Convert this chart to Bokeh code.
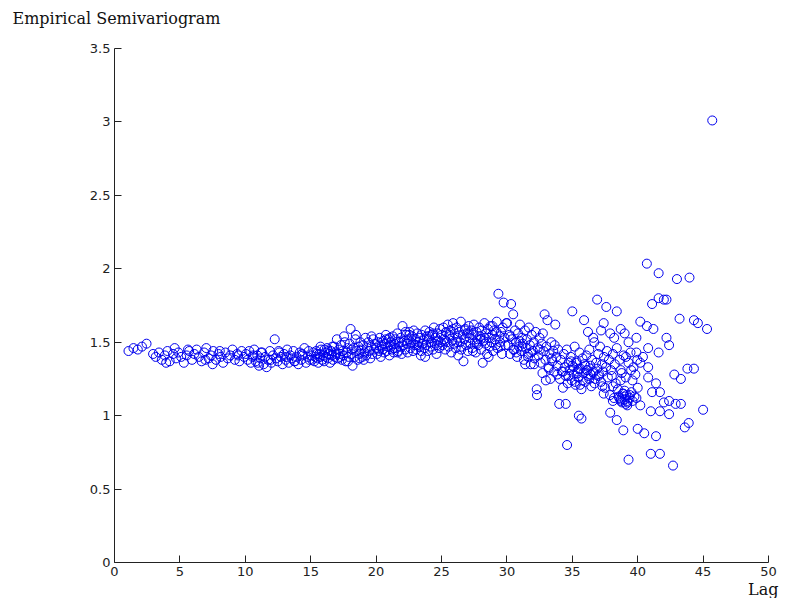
from bokeh.plotting import figure
from bokeh.models import Range1d, FixedTicker, Title
from bokeh.embed import file_html
from bokeh.resources import INLINE

# ---- data (lag, semivariance) ----
lag_a = [1.07, 1.45, 1.78, 2.10, 2.45, 2.95]
gam_a = [1.44, 1.46, 1.45, 1.47, 1.49, 1.42]

lag_b = [3.15, 3.40, 3.62, 3.85, 4.05, 4.22, 4.48, 4.70, 4.88, 5.10,
         5.30, 5.52, 5.71, 5.93, 6.10, 6.28, 6.45, 6.66, 6.85, 7.02,
         7.20, 7.38, 7.55, 7.76, 7.95, 8.12, 8.30, 8.48, 8.66, 8.85,
         9.02, 9.20, 9.38, 9.55, 9.72, 9.90, 3.95, 5.62, 6.95, 8.05,
         9.45, 4.60, 7.50]
gam_b = [1.40, 1.43, 1.38, 1.41, 1.44, 1.37, 1.42, 1.39, 1.43, 1.40,
         1.36, 1.41, 1.44, 1.38, 1.42, 1.45, 1.40, 1.37, 1.43, 1.46,
         1.39, 1.41, 1.44, 1.38, 1.42, 1.40, 1.36, 1.43, 1.39, 1.41,
         1.45, 1.38, 1.42, 1.37, 1.44, 1.40, 1.36, 1.45, 1.38, 1.44,
         1.41, 1.46, 1.35]

lag_c = [10.05, 10.18, 10.30, 10.42, 10.55, 10.68, 10.80, 10.92, 11.05, 11.15,
         11.28, 11.40, 11.52, 11.63, 11.75, 11.88, 12.00, 12.12, 12.25, 12.35,
         12.48, 12.60, 12.72, 12.85, 12.96, 13.08, 13.20, 13.32, 13.45, 13.56,
         13.68, 13.80, 13.92, 14.05, 14.16, 14.28, 14.40, 14.52, 14.65, 14.78,
         14.90, 10.60, 11.20, 11.95, 12.55, 13.15, 13.75, 14.35, 14.85, 10.95]
gam_c = [1.42, 1.38, 1.44, 1.36, 1.40, 1.45, 1.37, 1.41, 1.34, 1.39,
         1.43, 1.35, 1.40, 1.33, 1.38, 1.44, 1.36, 1.41, 1.52, 1.39,
         1.37, 1.43, 1.40, 1.35, 1.42, 1.38, 1.45, 1.36, 1.41, 1.39,
         1.44, 1.37, 1.40, 1.35, 1.43, 1.38, 1.41, 1.46, 1.36, 1.40,
         1.38, 1.41, 1.43, 1.38, 1.44, 1.40, 1.37, 1.42, 1.44, 1.36]

lag_d = [15.05, 15.12, 15.20, 15.28, 15.35, 15.42, 15.50, 15.58, 15.65, 15.72,
         15.80, 15.88, 15.95, 16.02, 16.10, 16.18, 16.25, 16.32, 16.40, 16.48,
         16.55, 16.62, 16.70, 16.78, 16.85, 16.92, 17.00, 17.08, 17.15, 17.22,
         17.30, 17.38, 17.45, 17.52, 17.60, 17.68, 17.75, 17.82, 17.90, 17.98,
         18.05, 18.12, 18.20, 18.28, 18.35, 18.42, 18.50, 18.58, 18.65, 18.72,
         18.80, 18.88, 18.95, 19.02, 19.10, 19.18, 19.25, 19.32, 19.40, 19.48,
         19.55, 19.62, 19.70, 19.78, 19.85, 19.92, 15.45, 16.05, 16.65, 17.25,
         17.85, 18.45, 19.05, 19.65, 15.75, 16.35, 16.95, 17.55, 18.15, 18.75]
gam_d = [1.41, 1.38, 1.43, 1.37, 1.40, 1.44, 1.39, 1.36, 1.42, 1.40,
         1.45, 1.38, 1.41, 1.37, 1.43, 1.40, 1.46, 1.39, 1.42, 1.36,
         1.44, 1.41, 1.38, 1.47, 1.40, 1.43, 1.52, 1.39, 1.45, 1.42,
         1.48, 1.38, 1.44, 1.41, 1.50, 1.37, 1.43, 1.46, 1.40, 1.49,
         1.59, 1.42, 1.34, 1.46, 1.40, 1.52, 1.44, 1.38, 1.47, 1.42,
         1.50, 1.45, 1.40, 1.48, 1.43, 1.53, 1.41, 1.46, 1.50, 1.44,
         1.39, 1.47, 1.42, 1.52, 1.45, 1.49, 1.42, 1.45, 1.47, 1.40,
         1.37, 1.55, 1.38, 1.54, 1.47, 1.44, 1.42, 1.54, 1.45, 1.39]

lag_e = [20.02, 20.08, 20.15, 20.22, 20.28, 20.35, 20.42, 20.48, 20.55, 20.62,
         20.68, 20.75, 20.82, 20.88, 20.95, 21.02, 21.08, 21.15, 21.22, 21.28,
         21.35, 21.42, 21.48, 21.55, 21.62, 21.68, 21.75, 21.82, 21.88, 21.95,
         22.02, 22.08, 22.15, 22.22, 22.28, 22.35, 22.42, 22.48, 22.55, 22.62,
         22.68, 22.75, 22.82, 22.88, 22.95, 23.02, 23.08, 23.15, 23.22, 23.28,
         23.35, 23.42, 23.48, 23.55, 23.62, 23.68, 23.75, 23.82, 23.88, 23.95,
         24.02, 24.08, 24.15, 24.22, 24.28, 24.35, 24.42, 24.48, 24.55, 24.62,
         24.68, 24.75, 24.82, 24.88, 24.95, 20.45, 21.05, 21.65, 22.25, 22.85,
         23.45, 24.05, 24.65, 20.75, 21.35, 21.95, 22.55, 23.15, 23.75, 24.35]
gam_e = [1.46, 1.42, 1.50, 1.44, 1.53, 1.40, 1.48, 1.45, 1.51, 1.43,
         1.49, 1.55, 1.44, 1.47, 1.52, 1.41, 1.48, 1.50, 1.45, 1.54,
         1.43, 1.49, 1.52, 1.46, 1.56, 1.44, 1.50, 1.47, 1.53, 1.42,
         1.61, 1.48, 1.51, 1.45, 1.55, 1.49, 1.43, 1.52, 1.57, 1.46,
         1.50, 1.54, 1.44, 1.58, 1.48, 1.52, 1.45, 1.56, 1.50, 1.47,
         1.53, 1.41, 1.55, 1.49, 1.51, 1.46, 1.58, 1.48, 1.54, 1.44,
         1.52, 1.57, 1.47, 1.50, 1.55, 1.45, 1.60, 1.49, 1.53, 1.42,
         1.56, 1.51, 1.46, 1.59, 1.50, 1.47, 1.53, 1.43, 1.57, 1.49,
         1.44, 1.54, 1.48, 1.52, 1.46, 1.50, 1.55, 1.48, 1.40, 1.56]

lag_f = [25.02, 25.08, 25.15, 25.22, 25.28, 25.35, 25.42, 25.48, 25.55, 25.62,
         25.68, 25.75, 25.82, 25.88, 25.95, 26.02, 26.08, 26.15, 26.22, 26.28,
         26.35, 26.42, 26.48, 26.55, 26.62, 26.68, 26.75, 26.82, 26.88, 26.95,
         27.02, 27.08, 27.15, 27.22, 27.28, 27.35, 27.42, 27.48, 27.55, 27.62,
         27.68, 27.75, 27.82, 27.88, 27.95, 28.02, 28.08, 28.15, 28.22, 28.28,
         28.35, 28.42, 28.48, 28.55, 28.62, 28.68, 28.75, 28.82, 28.88, 28.95,
         29.02, 29.08, 29.15, 29.22, 29.28, 29.35, 29.42, 29.48, 29.55, 29.62,
         29.68, 29.75, 29.82, 29.88, 29.95, 25.30, 25.90, 26.50, 27.10, 27.70,
         28.30, 28.90, 29.50, 25.60, 26.20, 26.80, 27.40, 28.00, 28.60, 29.20]
gam_f = [1.55, 1.48, 1.60, 1.52, 1.45, 1.57, 1.50, 1.62, 1.47, 1.54,
         1.58, 1.43, 1.51, 1.63, 1.49, 1.56, 1.46, 1.60, 1.53, 1.41,
         1.57, 1.50, 1.64, 1.47, 1.55, 1.37, 1.52, 1.59, 1.48, 1.56,
         1.44, 1.61, 1.53, 1.49, 1.58, 1.46, 1.55, 1.62, 1.50, 1.43,
         1.57, 1.52, 1.48, 1.60, 1.54, 1.45, 1.58, 1.36, 1.51, 1.63,
         1.49, 1.56, 1.42, 1.59, 1.53, 1.47, 1.61, 1.50, 1.55, 1.44,
         1.58, 1.52, 1.48, 1.64, 1.46, 1.83, 1.54, 1.50, 1.57, 1.42,
         1.60, 1.77, 1.53, 1.48, 1.63, 1.51, 1.59, 1.45, 1.56, 1.49,
         1.53, 1.61, 1.47, 1.55, 1.50, 1.58, 1.44, 1.52, 1.40, 1.57]

lag_g = [30.02, 30.10, 30.18, 30.25, 30.32, 30.40, 30.48, 30.55, 30.62, 30.70,
         30.78, 30.85, 30.92, 31.00, 31.08, 31.15, 31.22, 31.30, 31.38, 31.45,
         31.52, 31.60, 31.68, 31.75, 31.82, 31.90, 31.98, 32.05, 32.12, 32.20,
         32.28, 32.35, 32.42, 32.50, 32.58, 32.65, 32.72, 32.80, 32.88, 32.95,
         33.02, 33.10, 33.18, 33.25, 33.32, 33.40, 33.48, 33.55, 33.62, 33.70,
         33.78, 33.85, 33.92, 30.50, 30.95, 31.40, 31.85, 32.30, 32.75, 33.20,
         33.65, 30.28, 30.72, 31.18, 31.62, 32.08, 32.52, 32.98, 33.42, 33.88]
gam_g = [1.63, 1.48, 1.55, 1.42, 1.76, 1.52, 1.69, 1.45, 1.58, 1.50,
         1.40, 1.56, 1.47, 1.62, 1.44, 1.53, 1.49, 1.38, 1.58, 1.46,
         1.52, 1.42, 1.60, 1.48, 1.35, 1.55, 1.44, 1.50, 1.39, 1.57,
         1.18, 1.46, 1.41, 1.53, 1.36, 1.49, 1.29, 1.44, 1.69, 1.38,
         1.47, 1.65, 1.33, 1.42, 1.25, 1.50, 1.37, 1.44, 1.30, 1.62,
         1.40, 1.28, 1.45, 1.45, 1.51, 1.35, 1.43, 1.14, 1.56, 1.32,
         1.48, 1.54, 1.43, 1.47, 1.40, 1.35, 1.45, 1.24, 1.39, 1.34]

lag_h = [34.05, 34.12, 34.20, 34.28, 34.35, 34.42, 34.50, 34.58, 34.65, 34.72,
         34.80, 34.88, 34.95, 35.02, 35.10, 35.18, 35.25, 35.32, 35.40, 35.48,
         35.55, 35.62, 35.70, 35.78, 35.85, 35.92, 36.00, 36.08, 36.15, 36.22,
         36.30, 36.38, 36.45, 36.52, 36.60, 36.68, 36.75, 36.82, 36.90, 36.98,
         37.05, 37.12, 37.20, 37.28, 37.35, 37.42, 37.50, 37.58, 37.65, 37.72,
         37.80, 37.88, 37.95, 38.02, 38.10, 38.18, 38.25, 38.32, 38.40, 38.48,
         38.55, 38.62, 38.70, 38.78, 38.85, 38.92, 39.00, 39.08, 39.15, 39.22,
         39.30, 39.38, 39.45, 39.52, 39.60, 39.68, 39.75, 39.82, 39.90, 39.97]
gam_h = [1.25, 1.38, 1.30, 1.19, 1.42, 1.33, 1.27, 1.45, 1.22, 1.36,
         1.31, 1.40, 1.24, 1.34, 1.28, 1.47, 1.21, 1.37, 1.30, 1.26,
         1.43, 1.32, 1.18, 1.39, 1.29, 1.35, 1.23, 1.41, 1.31, 1.27,
         1.45, 1.34, 1.20, 1.38, 1.29, 1.50, 1.25, 1.36, 1.32, 1.42,
         1.28, 1.47, 1.23, 1.35, 1.30, 1.40, 1.19, 1.33, 1.44, 1.26,
         1.38, 1.14, 1.31, 1.27, 1.42, 1.12, 1.35, 1.22, 1.46, 1.18,
         1.13, 1.38, 1.10, 1.29, 1.15, 1.41, 1.11, 1.26, 1.14, 1.09,
         1.36, 1.12, 1.43, 1.16, 1.10, 1.33, 1.13, 1.28, 1.12, 1.38]

lag_h2 = [34.0, 34.5, 34.6, 35.5, 35.7, 35.0, 35.9, 36.9, 37.6, 38.4,
          37.4, 37.2, 36.2, 36.6, 37.9, 38.2, 38.7, 39.0, 39.3, 39.9,
          39.9, 39.1, 39.5, 39.6, 38.7, 38.7, 39.0, 38.1, 37.4, 38.1,
          39.2, 37.9, 38.4, 38.9, 39.3, 40.0, 40.0]
gam_h2 = [1.08, 1.08, 0.80, 1.00, 0.98, 1.71, 1.65, 1.79, 1.74, 1.71,
          1.63, 1.58, 1.57, 1.53, 1.56, 1.53, 1.59, 1.56, 1.50, 1.53,
          1.43, 1.40, 1.31, 1.24, 1.31, 1.24, 1.17, 1.20, 1.15, 1.10,
          1.07, 1.02, 0.97, 0.90, 0.70, 1.19, 0.91]

lag_k = [34.3, 34.7, 35.1, 35.4, 35.8, 36.1, 36.4, 36.7, 35.3, 35.6,
         36.0, 36.3, 34.9, 35.2, 35.5, 36.6, 37.0, 37.3, 38.6, 38.8,
         39.0, 39.2, 38.9, 39.1, 38.7, 39.4]
gam_k = [1.30, 1.27, 1.33, 1.29, 1.24, 1.31, 1.28, 1.22, 1.36, 1.21,
         1.34, 1.25, 1.37, 1.23, 1.32, 1.30, 1.27, 1.20, 1.12, 1.09,
         1.13, 1.10, 1.15, 1.08, 1.11, 1.14]

lag_i = [40.7, 41.6, 43.0, 43.96, 41.1, 41.6, 42.0, 42.2, 40.2, 40.7,
         41.2, 43.2, 44.3, 44.6, 45.3, 42.2, 42.4, 41.6, 40.8, 40.4,
         40.8, 41.4, 41.1, 41.7, 40.8, 40.2, 42.8, 43.3, 43.8, 44.3,
         42.4, 42.9, 43.3, 42.4, 45.0, 43.6, 43.9, 42.7, 40.2, 41.0,
         41.7, 42.0, 40.5, 41.4, 41.0, 41.7, 45.7]
gam_i = [2.035, 1.97, 1.93, 1.94, 1.76, 1.80, 1.79, 1.79, 1.64, 1.61,
         1.59, 1.66, 1.65, 1.63, 1.59, 1.53, 1.48, 1.43, 1.46, 1.40,
         1.26, 1.22, 1.16, 1.16, 1.33, 1.36, 1.28, 1.25, 1.32, 1.32,
         1.10, 1.08, 1.08, 1.01, 1.04, 0.92, 0.95, 0.66, 1.07, 1.03,
         1.03, 1.09, 0.88, 0.86, 0.74, 0.74, 3.01]

x_ticks = [0, 5, 10, 15, 20, 25, 30, 35, 40, 45, 50]
y_ticks = [0, 0.5, 1, 1.5, 2, 2.5, 3, 3.5]
y_tick_labels = ["0", "0.5", "1", "1.5", "2", "2.5", "3", "3.5"]

lag, gamma = [], []
for lx, gy in [(lag_a, gam_a), (lag_b, gam_b), (lag_c, gam_c), (lag_d, gam_d),
               (lag_e, gam_e), (lag_f, gam_f), (lag_g, gam_g), (lag_h, gam_h),
               (lag_h2, gam_h2), (lag_k, gam_k), (lag_i, gam_i)]:
    n = min(len(lx), len(gy))
    lag.extend(lx[:n])
    gamma.extend(gy[:n])

p = figure(width=779, height=598, output_backend="svg", toolbar_location=None,
           x_range=Range1d(0, 50), y_range=Range1d(0, 3.5),
           min_border_left=114, min_border_right=11,
           min_border_top=48, min_border_bottom=36)
p.outline_line_color = None
p.background_fill_color = "white"
p.border_fill_color = "white"
p.grid.visible = False

for ax in (p.xaxis[0], p.yaxis[0]):
    ax.axis_line_color = "#222222"
    ax.major_tick_line_color = "#222222"
    ax.major_tick_in = 7
    ax.major_tick_out = 0
    ax.minor_tick_line_color = None
    ax.major_label_text_font = "DejaVu Sans"
    ax.major_label_text_font_size = "13px"
    ax.major_label_text_color = "#222222"
    ax.major_label_standoff = 4

p.xaxis[0].ticker = FixedTicker(ticks=x_ticks)
p.yaxis[0].ticker = FixedTicker(ticks=y_ticks)
p.yaxis[0].major_label_overrides = {t: s for t, s in zip(y_ticks, y_tick_labels)}

p.scatter(lag, gamma, marker="circle", size=9, fill_color=None,
          line_color="#0000ee", line_width=1)

# spacer between frame and title (pushes the title up)
spacer = Title(text=" ", text_font="DejaVu Serif", text_font_size="16px",
               standoff=0)
p.add_layout(spacer, "above")

p.title.text = "Empirical Semivariogram"
p.title.align = "left"
p.title.offset = -102
p.title.standoff = 0
p.title.text_font = "DejaVu Serif"
p.title.text_font_size = "16px"
p.title.text_font_style = "normal"
p.title.text_color = "#111111"

lag_title = Title(text="Lag", align="right", offset=-10, standoff=-2,
                  text_font="DejaVu Serif", text_font_size="16px",
                  text_font_style="normal", text_color="#111111")
p.add_layout(lag_title, "below")

open("out.html", "w").write(file_html(p, INLINE))
